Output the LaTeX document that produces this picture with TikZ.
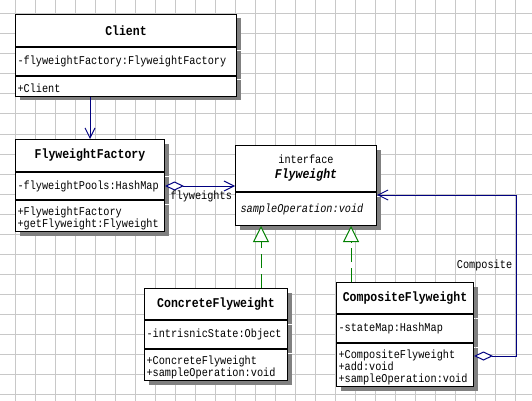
\documentclass[tikz,border=0pt]{standalone}
\usepackage{fontspec}
\setmonofont[FakeStretch=0.86]{Liberation Mono}
\usepackage{tikz}
\usetikzlibrary{calc}
\usetikzlibrary{arrows.meta}
\usetikzlibrary{shadows}
\definecolor{navy}{RGB}{0,0,128}
\definecolor{dkgreen}{RGB}{0,128,0}
\definecolor{gridgray}{RGB}{200,200,200}
\newcommand{\bodyfont}{\ttfamily\fontsize{11.9}{12}\selectfont}
\newcommand{\headfont}{\ttfamily\bfseries\fontsize{13.4}{15}\selectfont}

\begin{document}
\begin{tikzpicture}[x=1pt,y=-1pt,line width=1pt,
  boxshadow/.style={drop shadow={shadow xshift=4pt,shadow yshift=-4pt,fill=black!50,opacity=1}},
  clshead/.style={draw,fill=white,boxshadow,anchor=north west,align=center,font=\headfont,inner sep=0pt},
  clsbody/.style={draw,fill=white,boxshadow,anchor=north west,align=left,font=\bodyfont,inner xsep=2pt,inner ysep=0pt},
  assoc/.style={navy,-{Straight Barb[length=10pt,width=10pt]}},
  agg/.style={navy,{Diamond[fill=white,length=19pt,width=9pt]}-{Straight Barb[length=10pt,width=10pt]}},
  realize/.style={dkgreen,dash pattern=on 14pt off 6pt,-{Triangle[fill=white,length=16pt,width=16pt]}},
  edgelabel/.style={text=black,font=\bodyfont}]
\useasboundingbox (0,0) rectangle (532,401);
\fill[white] (0,0) rectangle (532,401);
%grid
\foreach \gx in {15,35,...,515} \draw[gridgray] (\gx,0) -- (\gx,401);
\foreach \gy in {14,34,...,394} \draw[gridgray] (0,\gy) -- (532,\gy);

%nodes
\node[clshead,minimum width=221pt,minimum height=32pt] (client) at (15,14) {Client};
\node[clsbody,text width=217pt,minimum height=28pt] (client-a) at (client.south west) {-flyweightFactory:FlyweightFactory};
\node[clsbody,text width=217pt,minimum height=20pt] (client-o) at (client-a.south west) {\rule{0pt}{12pt}+Client};

\node[clshead,minimum width=149pt,minimum height=32pt] (ffac) at (15,139) {FlyweightFactory};
\node[clsbody,text width=145pt,minimum height=27pt] (ffac-a) at (ffac.south west) {-flyweightPools:HashMap};
\node[clsbody,text width=145pt,minimum height=31pt] (ffac-o) at (ffac-a.south west) {\rule{0pt}{14pt}+FlyweightFactory\\+getFlyweight:Flyweight};

\node[clshead,font=\bodyfont,minimum width=141pt,minimum height=46pt] (fw) at (235,145) {interface\\[3pt]{\headfont\itshape Flyweight}};
\node[clsbody,inner xsep=5pt,text width=131pt,minimum height=33pt] (fw-o) at (fw.south west) {\itshape sampleOperation:void};

\node[clshead,minimum width=143pt,minimum height=31pt] (cf) at (144,288) {ConcreteFlyweight};
\node[clsbody,text width=139pt,minimum height=28pt] (cf-a) at (cf.south west) {-intrisnicState:Object};
\node[clsbody,text width=139pt,minimum height=31pt] (cf-o) at (cf-a.south west) {\rule{0pt}{14pt}+ConcreteFlyweight\\+sampleOperation:void};

\node[clshead,minimum width=137pt,minimum height=31pt] (comp) at (336,282) {CompositeFlyweight};
\node[clsbody,text width=133pt,minimum height=28pt] (comp-a) at (comp.south west) {-stateMap:HashMap};
\node[clsbody,text width=133pt,minimum height=43pt] (comp-o) at (comp-a.south west) {\rule{0pt}{14pt}+CompositeFlyweight\\+add:void\\+sampleOperation:void};

%edges
\draw[assoc] (client-o.south -| ffac.north) -- (ffac.north);
\draw[agg] (ffac-a.east) -- (ffac-a.east -| fw.west)
  node[pos=0,anchor=west,xshift=5pt,yshift=-10pt,inner sep=0pt,edgelabel] {flyweights};
\draw[realize] ($(cf.north west)+(117,0)$) coordinate (cf-top) -- (cf-top |- fw-o.south);
\draw[realize] ($(comp.north west)+(15,0)$) coordinate (comp-top) -- (comp-top |- fw-o.south);
\draw[agg] ($(comp-o.north east)+(0,13)$) -- ++(42,0) |- ($(fw-o.north east)+(0,3)$)
  node[pos=0.28,left,edgelabel] {Composite};
\end{tikzpicture}
\end{document}
